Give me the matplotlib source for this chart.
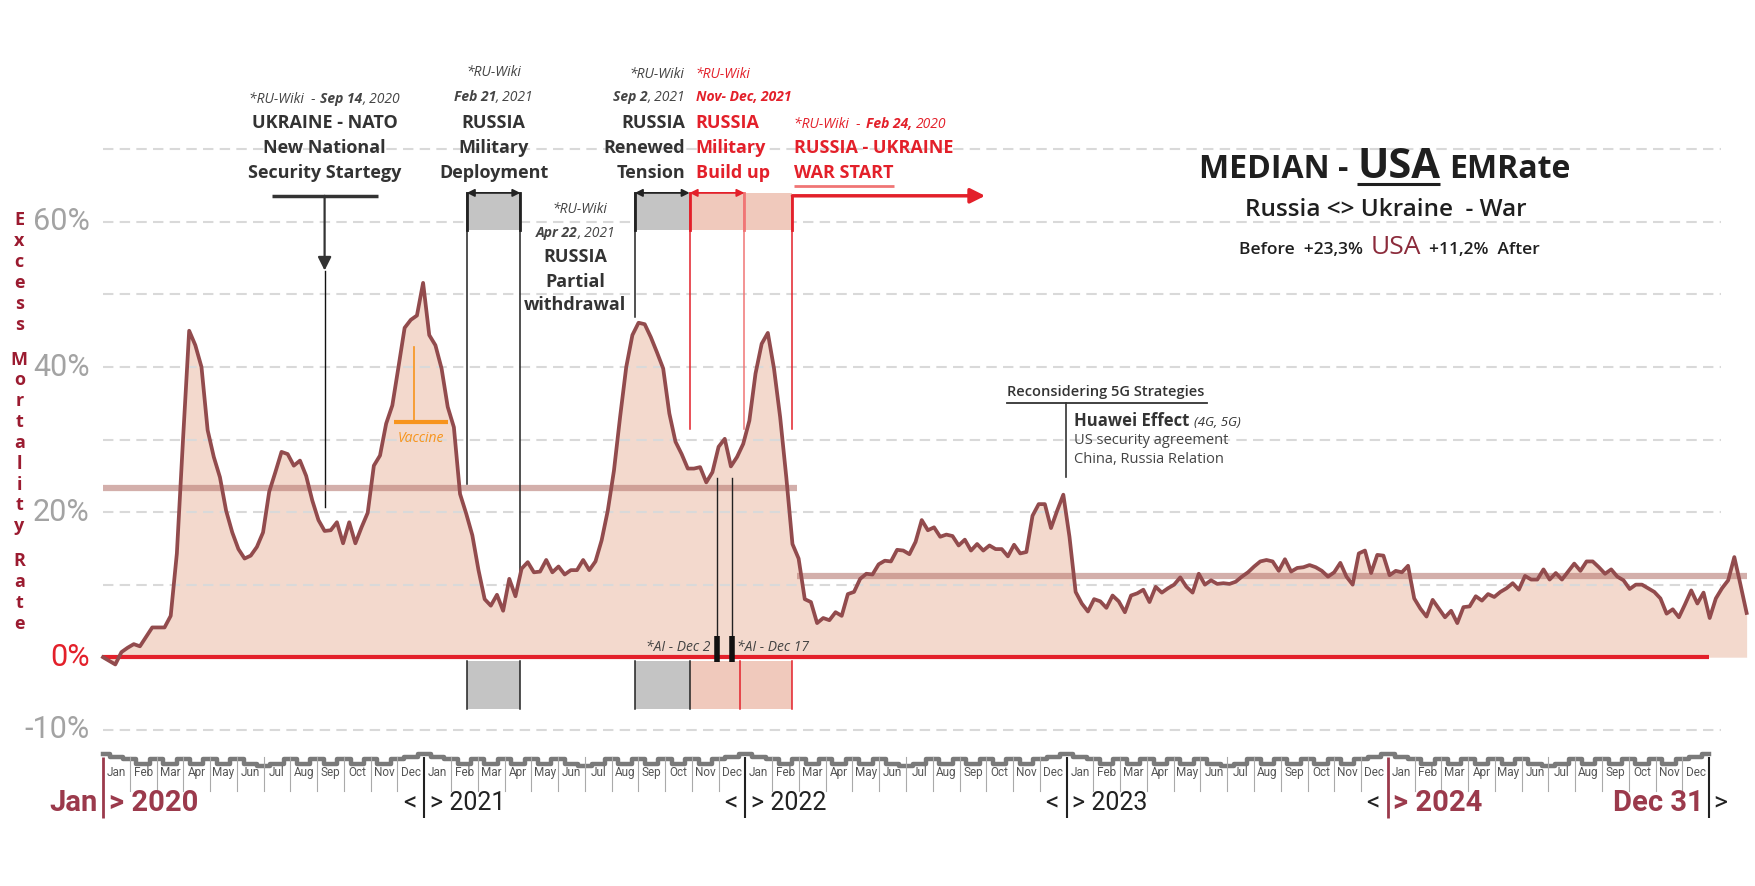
import numpy as np
import matplotlib.pyplot as plt
import matplotlib.transforms as mtransforms

# weekly median excess mortality rate, USA (%), week 0 = first week of Jan 2020
emr = [0, -0.5, -1, 0.7, 1.3, 1.8, 1.5, 2.8, 4.1, 4.1,
       4.1, 5.7, 14.3, 30, 45, 43, 40, 31.3, 27.6, 24.8,
       20.2, 17.2, 14.9, 13.6, 14, 15.2, 17.2, 22.8, 25.5, 28.3,
       28, 26.4, 27.1, 25, 21.6, 18.9, 17.4, 17.5, 18.6, 15.7,
       18.6, 15.7, 17.9, 19.9, 26.4, 27.8, 32.2, 34.7, 40, 45.4,
       46.5, 47.1, 51.6, 44.4, 43, 39.8, 34.5, 31.7, 22.5, 19.8,
       16.8, 12, 8, 7.1, 8.6, 6.4, 10.8, 8.4, 12.2, 13.1,
       11.7, 11.8, 13.4, 11.7, 12.5, 11.4, 12, 12, 13.4, 12,
       13.2, 16.1, 20.2, 25.7, 33.1, 40, 44.4, 46.1, 45.9, 44.1,
       42, 39.8, 33.6, 29.7, 28, 26, 26, 26.2, 24.1, 25.5,
       29, 30.1, 26.3, 27.6, 29.4, 32.6, 39.1, 43.2, 44.7, 39.8,
       33.1, 24.8, 15.6, 13.6, 8, 7.6, 4.7, 5.4, 5.1, 6.2,
       5.7, 8.7, 9, 10.8, 11.5, 11.4, 12.8, 13.3, 13.2, 14.8,
       14.7, 14.2, 15.9, 18.9, 17.5, 17.9, 16.6, 16.9, 16.7, 15.4,
       16.2, 14.7, 15.6, 14.7, 15.4, 14.9, 14.9, 13.9, 15.5, 14.3,
       14.5, 19.5, 21.1, 21.1, 17.8, 20.2, 22.4, 16.6, 9, 7.4,
       6.3, 8, 7.7, 6.8, 8.5, 7.7, 6.2, 8.5, 8.8, 9.3,
       7.6, 9.7, 8.9, 9.5, 10, 11, 9.7, 8.9, 11.5, 10,
       10.6, 10.1, 10.2, 10.1, 10.4, 11.1, 11.7, 12.5, 13.2, 13.4,
       13.2, 11.9, 13.5, 11.8, 12.3, 12.4, 12.7, 12.4, 11.9, 11.1,
       11.7, 13, 11.1, 10, 14.3, 14.7, 11.6, 14.1, 14, 11.3,
       11.9, 11.7, 12.6, 8.1, 6.7, 5.6, 7.9, 6.7, 5.5, 6.4,
       4.7, 6.9, 7, 8.4, 7.8, 8.7, 8.3, 9, 9.5, 10.2,
       9.3, 11.2, 10.7, 10.7, 12.1, 10.7, 11.6, 10.7, 11.8, 12.9,
       11.9, 13.2, 13.2, 12.4, 11.5, 12.1, 11.1, 10.6, 9.4, 10,
       10, 9.5, 9, 8.1, 6, 6.6, 5.5, 7.3, 9.2, 7.4,
       8.9, 5.4, 8.1, 9.5, 10.6, 13.8, 10, 6.1]

mean_before = 23.3
mean_after = 11.2
war_week = 112.7

years = [2020, 2021, 2022, 2023, 2024]
months = ['Jan', 'Feb', 'Mar', 'Apr', 'May', 'Jun',
          'Jul', 'Aug', 'Sep', 'Oct', 'Nov', 'Dec']
grid_levels = [-10, 10, 20, 30, 40, 50, 60, 70]
ytick_vals = [60, 40, 20, 0, -10]
ytick_text = ['60%', '40%', '20%', '0%', '-10%']

# decorative seasonal band above the month labels
wave_edge = [-13.3, -14.0, -14.0, -14.0, -14.0, -14.0,
             -15.0, -14.0, -14.0, -14.0, -14.0, -14.0]
wave_mid = [-13.8, -14.7, -14.7, -14.7, -14.7, -14.7,
            -14.7, -14.7, -14.7, -14.7, -14.7, -13.8]

# event weeks
ev_nato = 36.0
ev_deploy = (59.1, 67.8)
ev_withdraw = 76.7
ev_tension = (86.4, 95.3)
ev_buildup = (95.3, 104.2, 112.0)
ev_ai = [99.8, 102.2]
ev_huawei = 156.5
ev_vaccine = 50.5

LINE = '#924b4d'
FILL = '#f3d9cd'
BAND = '#b77a74'
RED = '#e3202a'
DARK = '#333333'
GREY_BOX = '#c4c4c4'
RED_BOX = '#f0c9bc'
WINE = '#9b3a4c'
ORANGE = '#f7941d'

plt.rcParams['font.family'] = ['Open Sans', 'DejaVu Sans']
NARROW = ['Roboto', 'DejaVu Sans']

fig = plt.figure(figsize=(17.55, 8.86), dpi=100)
ax = fig.add_axes([0, 0, 1, 1])
ax.set_xlim(-16.73, 268.36)
ax.set_ylim(-31.54, 90.59)
ax.axis('off')
renderer = fig.canvas.get_renderer()


def rich(x, y, parts, ha='left', **common):
    # parts: (text, style, gap after in px)
    items = []
    for s, style, gap in parts:
        kw = dict(common)
        kw.update(style)
        t = ax.text(x, y, s, ha='left', va='baseline', **kw)
        items.append((t, t.get_window_extent(renderer).width, gap))
    total = sum(w + g for _, w, g in items) - items[-1][2]
    off = {'left': 0, 'center': -total / 2, 'right': -total}[ha]
    for t, w, g in items:
        t.set_transform(ax.transData + mtransforms.ScaledTranslation(
            off / fig.dpi, 0, fig.dpi_scale_trans))
        off += w + g
    return [it[0] for it in items]


def underline(t, y, color, lw):
    bb = t.get_window_extent(renderer).transformed(ax.transData.inverted())
    ax.plot([bb.x0, bb.x1], [y, y], color=color, lw=lw,
            solid_capstyle='butt')


weeks = np.arange(len(emr))
end_week = 5 * 52.18
mlen = 52.18 / 12

# ---- main series
ax.fill_between(weeks, emr, 0, color=FILL, lw=0, zorder=1)
for g in grid_levels:
    ax.plot([0, end_week + 2], [g, g], color='#d9d9d9', lw=1.5,
            dashes=(5, 3), zorder=2)
ax.plot([0, war_week], [mean_before] * 2, color=BAND, alpha=0.6, lw=4.5,
        solid_capstyle='butt', zorder=3)
ax.plot([war_week, weeks[-1]], [mean_after] * 2, color=BAND, alpha=0.6,
        lw=4.5, solid_capstyle='butt', zorder=3)
ax.plot([0, end_week], [0, 0], color=RED, lw=3, solid_capstyle='butt',
        zorder=4)
ax.plot(weeks, emr, color=LINE, lw=2.7, zorder=6, solid_joinstyle='round')

# ---- y labels
for v, s in zip(ytick_vals, ytick_text):
    ax.text(-2.2, v, s, ha='right', va='center', fontsize=22,
            family=NARROW, color=RED if v == 0 else '#a3a3a3')

label = 'Excess Mortality Rate'
yy = 60.2
for ch in label:
    if ch == ' ':
        yy -= 4.83 - 2.87
        continue
    ax.text(-13.6, yy, ch, ha='center', va='center', fontsize=13,
            fontweight='bold', color='#9b1b30')
    yy -= 2.87

# ---- event boxes
def box(x0, x1, y0, y1, color):
    ax.fill_between([x0, x1], y0, y1, color=color, lw=0, zorder=3)

box(*ev_deploy, 58.95, 64.0, GREY_BOX)
box(*ev_tension, 58.95, 64.0, GREY_BOX)
box(ev_buildup[0], ev_buildup[2], 58.95, 64.0, RED_BOX)
box(*ev_deploy, -7.1, -0.46, GREY_BOX)
box(*ev_tension, -7.1, -0.46, GREY_BOX)
box(ev_buildup[0], ev_buildup[2], -7.1, -0.46, RED_BOX)

vlines = [(ev_deploy[0], 64, 23.9, '#222222'),
          (ev_deploy[1], 64, 11.7, '#222222'),
          (ev_tension[0], 64, 46.9, '#222222'),
          (ev_buildup[0], 64, 31.5, RED),
          (ev_buildup[1], 64, 31.5, '#f07575'),
          (ev_buildup[2], 63.6, 31.5, RED)]
for x, y0, y1, c in vlines:
    ax.plot([x, x], [y0, y1], color=c, lw=1.1, zorder=4)
    ax.plot([x, x], [y0, 58.95], color=c, lw=2, zorder=4)
for x, c in [(ev_deploy[0], '#222222'), (ev_deploy[1], '#222222'),
             (ev_tension[0], '#222222'), (ev_tension[1], '#222222'),
             (103.5, RED), (ev_buildup[2], RED)]:
    ax.plot([x, x], [-0.46, -7.1], color=c, lw=1.1, zorder=4)

arrow2 = dict(arrowstyle='<|-|>', lw=1.3, mutation_scale=11,
              shrinkA=0, shrinkB=0)
ax.annotate('', xy=(ev_deploy[0], 64), xytext=(ev_deploy[1], 64),
            arrowprops=dict(color='#222222', **arrow2), zorder=5)
ax.annotate('', xy=(ev_tension[0], 64), xytext=(ev_tension[1], 64),
            arrowprops=dict(color='#222222', **arrow2), zorder=5)
ax.annotate('', xy=(ev_buildup[0], 64), xytext=(ev_buildup[1], 64),
            arrowprops=dict(color=RED, **arrow2), zorder=5)
ax.annotate('', xy=(143.3, 63.6), xytext=(ev_buildup[2], 63.6),
            arrowprops=dict(arrowstyle='-|>', color=RED, lw=2.5,
                            mutation_scale=22, shrinkA=0, shrinkB=0),
            zorder=5)

# Sep 14 2020
ax.plot([27.5, 44.7], [63.6, 63.6], color=DARK, lw=2.5,
        solid_capstyle='butt')
ax.annotate('', xy=(ev_nato, 53.3), xytext=(ev_nato, 63.6),
            arrowprops=dict(arrowstyle='-|>', color=DARK, lw=1.6,
                            mutation_scale=20, shrinkA=0, shrinkB=0))
ax.plot([ev_nato, ev_nato], [53.3, 20.7], color='#111111', lw=1)

# AI markers
for x in ev_ai:
    ax.plot([x, x], [24.7, 2.3], color='#222222', lw=1, zorder=5)
    ax.plot([x, x], [2.9, -0.6], color='#111111', lw=4, zorder=5,
            solid_capstyle='butt')
ax.text(98.6, 1.4, '*AI - Dec 2', ha='right', va='center', fontsize=10,
        style='italic', color='#444444', zorder=7)
ax.text(103.0, 1.4, '*AI - Dec 17', ha='left', va='center', fontsize=10,
        style='italic', color='#444444', zorder=7)

# Huawei
ax.text(146.9, 36.6, 'Reconsidering 5G Strategies', ha='left',
        va='center', fontsize=10.5, fontweight='semibold', color=DARK)
ax.plot([146.9, 179.3], [35.0, 35.0], color=DARK, lw=1.3)
ax.plot([ev_huawei, ev_huawei], [35.0, 24.9], color=DARK, lw=1.2)
rich(157.8, 31.9, [('Huawei Effect', dict(fontsize=12, fontweight='bold'), 4),
                   ('(4G, 5G)', dict(fontsize=9.5, style='italic'), 0)],
     color=DARK)
ax.text(157.8, 29.9, 'US security agreement', ha='left', va='center',
        fontsize=10.5, color='#444444')
ax.text(157.8, 27.2, 'China, Russia Relation', ha='left', va='center',
        fontsize=10.5, color='#444444')

# vaccine
ax.plot([ev_vaccine, ev_vaccine], [42.7, 32.4], color=ORANGE, lw=1.2,
        zorder=5)
ax.plot([47.3, 56.0], [32.4, 32.4], color=ORANGE, lw=3, zorder=5,
        solid_capstyle='butt')
ax.text(51.6, 30.2, 'Vaccine', ha='center', va='center', fontsize=10,
        style='italic', color=ORANGE, zorder=7)

# ---- event texts
WIKI = dict(fontsize=10, style='italic', color='#444444')
BIG = dict(fontsize=13, fontweight='bold', color=DARK)

rich(ev_nato, 76.4, [('*RU-Wiki  -', {}, 5),
                     ('Sep 14', dict(fontweight='bold'), 0),
                     (', 2020', {}, 0)], ha='center', **WIKI)
for s, v in [('UKRAINE - NATO', 73.6), ('New National', 70.2),
             ('Security Startegy', 66.8)]:
    ax.text(ev_nato, v, s, ha='center', va='center', **BIG)

ax.text(63.45, 80.6, '*RU-Wiki', ha='center', va='center', **WIKI)
rich(63.45, 76.6, [('Feb 21', dict(fontweight='bold'), 0),
                   (', 2021', {}, 0)], ha='center', **WIKI)
for s, v in [('RUSSIA', 73.6), ('Military', 70.2), ('Deployment', 66.8)]:
    ax.text(63.45, v, s, ha='center', va='center', **BIG)

ax.text(ev_withdraw + 0.8, 61.7, '*RU-Wiki', ha='center', va='center',
        **WIKI)
rich(ev_withdraw, 57.9, [('Apr 22', dict(fontweight='bold'), 0),
                         (', 2021', {}, 0)], ha='center', **WIKI)
for s, v in [('RUSSIA', 55.1), ('Partial', 51.7), ('withdrawal', 48.5)]:
    ax.text(ev_withdraw, v, s, ha='center', va='center', **BIG)

ax.text(94.4, 80.3, '*RU-Wiki', ha='right', va='center', **WIKI)
rich(94.6, 76.6, [('Sep 2', dict(fontweight='bold'), 0),
                  (', 2021', {}, 0)], ha='right', **WIKI)
for s, v in [('RUSSIA', 73.6), ('Renewed', 70.2), ('Tension', 66.8)]:
    ax.text(94.6, v, s, ha='right', va='center', **BIG)

RWIKI = dict(WIKI, color=RED)
RBIG = dict(BIG, color=RED)
ax.text(96.3, 80.3, '*RU-Wiki', ha='left', va='center', **RWIKI)
ax.text(96.3, 76.6, 'Nov- Dec, 2021', ha='left', va='baseline',
        fontweight='bold', **RWIKI)
for s, v in [('RUSSIA', 73.6), ('Military', 70.2), ('Build up', 66.8)]:
    ax.text(96.3, v, s, ha='left', va='center', **RBIG)

rich(112.3, 72.9, [('*RU-Wiki  -', {}, 5),
                   ('Feb 24,', dict(fontweight='bold'), 4),
                   ('2020', {}, 0)], ha='left', **RWIKI)
ax.text(112.3, 70.2, 'RUSSIA - UKRAINE', ha='left', va='center', **RBIG)
war = ax.text(112.3, 66.8, 'WAR START', ha='left', va='center', **RBIG)
underline(war, 65.0, '#f07575', 2)

# ---- title
t = rich(208.2, 66.0, [('MEDIAN -', dict(fontsize=23), 9),
                       ('USA', dict(fontsize=30), 9),
                       ('EMRate', dict(fontsize=23), 0)],
         ha='center', fontweight='bold', color='#1f1f1f')
underline(t[1], 65.2, '#1f1f1f', 2.2)
ax.text(208.3, 60.8, 'Russia <> Ukraine  - War', ha='center',
        va='baseline', fontsize=17.5, fontweight='semibold', color='#1f1f1f')
rich(209.0, 55.6, [('Before  +23,3%', dict(fontsize=12.5), 8),
                   ('USA', dict(fontsize=19, fontweight='normal',
                                color='#8b2b3b'), 8),
                   ('+11,2%  After', dict(fontsize=12.5), 0)],
     ha='center', fontweight='semibold', color='#1f1f1f')

# ---- bottom time axis
xs, ys = [], []
for k in range(60):
    m = k % 12
    xs += [max(k * mlen - mlen / 4, 0), k * mlen + mlen / 4]
    ys += [wave_edge[m], wave_mid[m]]
xs += [60 * mlen - mlen / 4, 60 * mlen]
ys += [wave_edge[0], wave_edge[0]]
ax.step(xs, ys, where='post', color='#7a7a7a', lw=3.2)

for k in range(60):
    ax.text((k + 0.5) * mlen, -15.9, months[k % 12], ha='center',
            va='center', fontsize=8.5, family=NARROW, color='#555555')
    if k % 12:
        ax.plot([k * mlen] * 2, [-13.7, -18.4], color='#aaaaaa', lw=0.8)

for i in range(6):
    x = i * 52.18
    wine = i in (0, 4)
    ax.plot([x, x], [-13.7, -22.2], color=WINE if wine else '#222222',
            lw=2 if wine else 1.5, solid_capstyle='butt')
    if i == 0:
        ax.text(x - 0.9, -20.1, 'Jan', ha='right', va='center', fontsize=21,
                fontweight='bold', family=NARROW, color=WINE)
        ax.text(x + 0.9, -20.1, '> %d' % years[0], ha='left', va='center',
                fontsize=21, fontweight='bold', family=NARROW, color=WINE)
    elif i == 5:
        ax.text(x - 0.9, -20.1, 'Dec 31', ha='right', va='center',
                fontsize=21, fontweight='bold', family=NARROW, color=WINE)
        ax.text(x + 0.7, -20.1, '>', ha='left', va='center', fontsize=19,
                family=NARROW, color='#222222')
    else:
        ax.text(x - 1.3, -20.1, '<', ha='right', va='center', fontsize=19,
                family=NARROW, color='#222222')
        ax.text(x + 0.9, -20.1, '> %d' % years[i], ha='left', va='center',
                fontsize=21 if wine else 18,
                fontweight='bold' if wine else 'normal', family=NARROW,
                color=WINE if wine else '#222222')

fig.savefig('out.png', dpi=100, facecolor='white')
